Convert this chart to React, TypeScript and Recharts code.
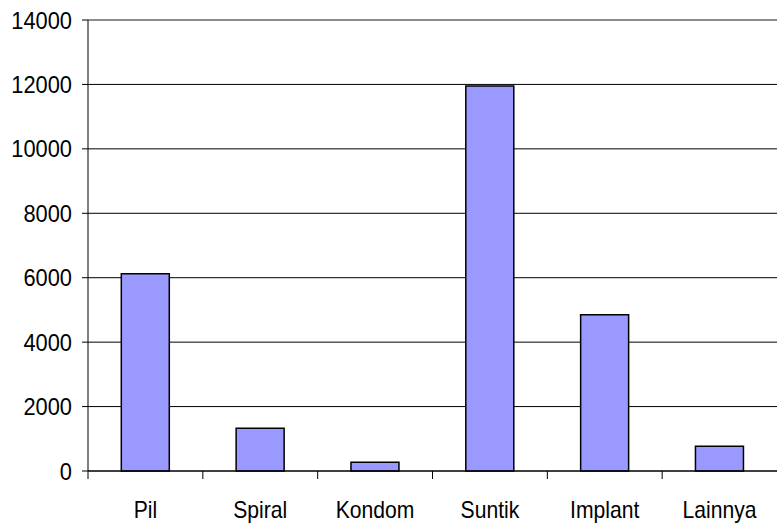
import { Bar, BarChart, CartesianGrid, XAxis, YAxis, ReferenceLine } from "recharts";

const categories = ["Pil", "Spiral", "Kondom", "Suntik", "Implant", "Lainnya"];
const values = [6120, 1330, 270, 11950, 4850, 770];
const yTicks = [0, 2000, 4000, 6000, 8000, 10000, 12000, 14000];

const data = categories.map((name, i) => ({ name, value: values[i] }));

const W = 777;
const H = 526;
const LEFT = 88;
const BAND = (W - LEFT) / categories.length;
const FONT = "'Liberation Sans', Arial, sans-serif";

function XTick(props: any) {
  const { x, y, payload } = props;
  const edge = x - BAND / 2;
  return (
    <g>
      <line x1={edge} y1={y - 8} x2={edge} y2={y} stroke="#000" strokeWidth={1} />
      <g transform={`translate(${x},${y + 39}) scale(0.92,1)`}>
        <text x={0} y={0} textAnchor="middle" fontSize={23} fontFamily={FONT} fill="#000">
          {payload.value}
        </text>
      </g>
    </g>
  );
}

function YTick(props: any) {
  const { y, payload } = props;
  return (
    <g transform={`translate(72,${y + 8.5}) scale(0.95,1)`}>
      <text x={0} y={0} textAnchor="end" fontSize={23} fontFamily={FONT} fill="#000">
        {payload.value}
      </text>
    </g>
  );
}

export default function App() {
  return (
    <div style={{ position: "absolute", left: 0, top: 0, width: W, height: H, background: "#fff" }}>
      <BarChart
        width={W}
        height={H}
        data={data}
        margin={{ top: 20, right: 0, left: 0, bottom: 0 }}
        barCategoryGap="29%"
      >
        <CartesianGrid vertical={false} stroke="#000" strokeOpacity={1} />
        <XAxis
          dataKey="name"
          height={55}
          tickLine={false}
          axisLine={{ stroke: "#000" }}
          tick={<XTick />}
          interval={0}
        />
        <YAxis
          width={LEFT}
          domain={[0, 14000]}
          ticks={yTicks}
          interval={0}
          tickSize={6}
          tickLine={{ stroke: "#000" }}
          axisLine={{ stroke: "#000" }}
          tick={<YTick />}
        />
        <ReferenceLine y={14000} stroke="#999" />
        <Bar dataKey="value" fill="#9999ff" stroke="#000" strokeWidth={1.5} isAnimationActive={false} />
      </BarChart>
    </div>
  );
}
